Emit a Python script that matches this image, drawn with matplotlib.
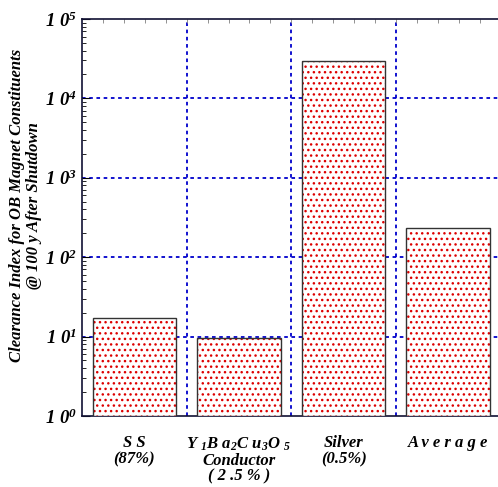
import numpy as np
import matplotlib
matplotlib.use('Agg')
import matplotlib.pyplot as plt
from matplotlib.ticker import LogLocator, FixedLocator, NullFormatter

plt.rcParams['mathtext.fontset'] = 'custom'
plt.rcParams['mathtext.rm'] = 'Liberation Serif:italic:bold'
plt.rcParams['mathtext.it'] = 'Liberation Serif:italic:bold'
plt.rcParams['mathtext.bf'] = 'Liberation Serif:italic:bold'

# data
categories = ['S S\n(87%)',
              'Y $_{1}$B a$_{2}$C u$_{3}$O $_{5}$\nConductor\n( 2 .5 % )',
              'Silver\n(0.5%)',
              'A v e r a g e']
values = [17, 9.6, 29500, 234]
ytick_vals = [1, 10, 100, 1000, 10000, 100000]
ytick_labels = ['1 0$^{0}$', '1 0$^{1}$', '1 0$^{2}$', '1 0$^{3}$', '1 0$^{4}$', '1 0$^{5}$']

font = dict(family='Liberation Serif', style='italic', weight='bold')
grid_blue = '#0000cc'

fig = plt.figure(figsize=(4.98, 4.87), dpi=100)
ax = fig.add_axes([0.165, 0.146, 0.84, 0.815])

x = np.arange(len(values))
heights = np.array(values) - 1
# red dotted fill, then black outline on top
ax.bar(x, heights, width=0.8, bottom=1, color='white', edgecolor='#dd0000',
       hatch='...', linewidth=0, zorder=3)
ax.bar(x, heights, width=0.8, bottom=1, color='none', edgecolor='#333333',
       linewidth=1.0, zorder=4)

ax.set_yscale('log')
ax.set_ylim(1, 1e5)
ax.set_xlim(-0.5, 3.5)

# grid lines (horizontal decades, vertical between categories)
for v in ytick_vals[1:-1]:
    ax.axhline(v, color=grid_blue, linestyle=(0, (2, 2)), linewidth=1.3, zorder=1)
for xv in [0.5, 1.5, 2.5]:
    ax.axvline(xv, color=grid_blue, linestyle=(0, (2, 2)), linewidth=1.3, zorder=1)

ax.yaxis.set_major_locator(FixedLocator(ytick_vals))
ax.set_yticklabels(ytick_labels, fontsize=13.5, **font)
ax.yaxis.set_minor_locator(LogLocator(base=10, subs=np.arange(2, 10)))
ax.yaxis.set_minor_formatter(NullFormatter())
ax.tick_params(axis='y', which='major', direction='in', length=6, pad=4)
ax.tick_params(axis='y', which='minor', direction='in', length=3)

ax.set_xticks(x)
ax.set_xticklabels(categories, fontsize=12, linespacing=1.0, **font)
ax.tick_params(axis='x', which='major', length=0, pad=14)
ax.set_xticks(np.arange(-0.3, 3.5, 0.2), minor=True)
ax.tick_params(axis='x', which='minor', top=True, bottom=False, direction='in',
               length=3, color='grey')

ax.spines['right'].set_visible(False)
for s in ['left', 'bottom', 'top']:
    ax.spines[s].set_linewidth(1.2)
    ax.spines[s].set_color('#111133')

ax.set_ylabel('Clearance Index for OB Magnet Constituents\n@ 100 y After Shutdown',
              fontsize=12, linespacing=1.1, **font)
ax.yaxis.set_label_coords(-0.095, 0.53)

fig.savefig('out.png', dpi=100)
